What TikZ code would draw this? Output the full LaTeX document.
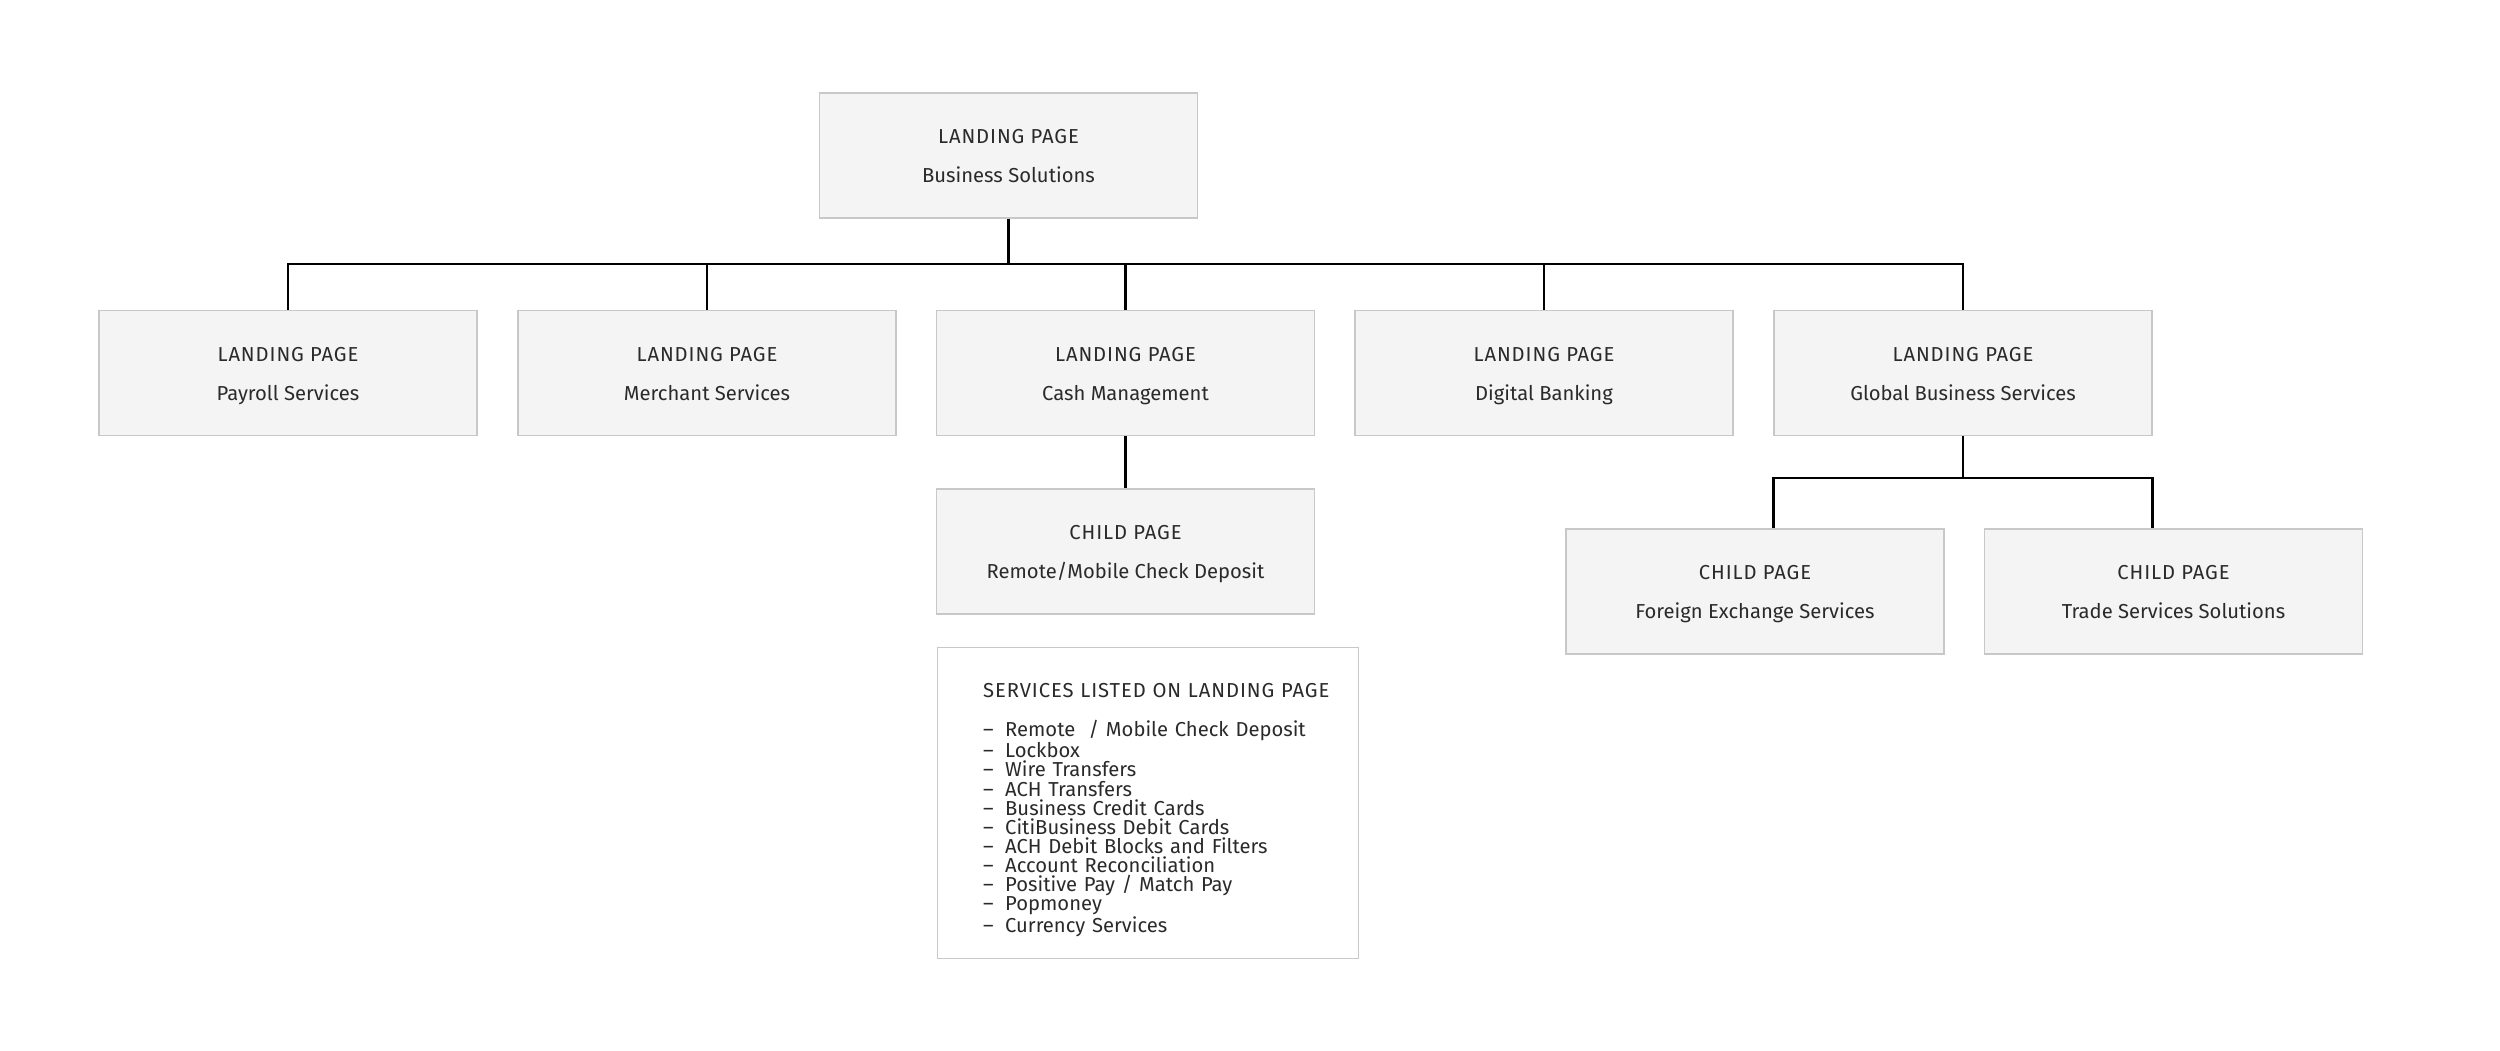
\documentclass[tikz,border=0pt]{standalone}
\usepackage{fontspec}
\setmainfont{Fira Sans}
\newfontfamily\capsfont[LetterSpace=4.5]{Fira Sans}
\setlength{\parindent}{0pt}
\newcommand{\pagetext}[2]{\strut{\capsfont #1}\\#2\strut}
\newcommand{\svcitem}[1]{\makebox[0.44cm][l]{--}#1}
\begin{document}
\begin{tikzpicture}[
    page/.style={draw=boxline, fill=boxfill, line width=0.8pt, minimum width=7.56cm, minimum height=2.5cm,
        align=center, text=ink, font=\fontsize{11.5}{22}\selectfont},
    svclist/.style={draw=boxline, fill=white, line width=0.8pt, text width=8.42cm, inner xsep=0pt,
        minimum height=6.22cm, align=left, text=ink, font=\fontsize{11.5}{10.85}\selectfont},
    link/.style={black, line width=1.6pt}]
    \definecolor{boxline}{RGB}{200,200,200}
    \definecolor{boxfill}{RGB}{244,244,244}
    \definecolor{ink}{RGB}{42,42,42}

    \useasboundingbox (0,0) rectangle (50,21);

    \node[page] (top) at (20.17,17.89) {\pagetext{LANDING PAGE}{Business Solutions}};
    \node[page] (pay) at (5.76,13.54) {\pagetext{LANDING PAGE}{Payroll Services}};
    \node[page] (mer) at (14.14,13.54) {\pagetext{LANDING PAGE}{Merchant Services}};
    \node[page] (cash) at (22.51,13.54) {\pagetext{LANDING PAGE}{Cash Management}};
    \node[page] (dig) at (30.88,13.54) {\pagetext{LANDING PAGE}{Digital Banking}};
    \node[page] (glob) at (39.26,13.54) {\pagetext{LANDING PAGE}{Global Business Services}};
    \node[page] (rdc) at (22.51,9.97) {\pagetext{CHILD PAGE}{Remote/Mobile Check Deposit}};
    \node[page] (fx) at (35.10,9.17) {\pagetext{CHILD PAGE}{Foreign Exchange Services}};
    \node[page] (trade) at (43.47,9.17) {\pagetext{CHILD PAGE}{Trade Services Solutions}};
    \node[svclist, anchor=north west] (svc) at (18.73,8.06) {\leftskip=0.92cm
        \rule{0pt}{16pt}{\capsfont SERVICES LISTED ON LANDING PAGE}\\[11.2pt]
        \svcitem{Remote\ \ / Mobile Check Deposit}\\
        \svcitem{Lockbox}\\
        \svcitem{Wire Transfers}\\
        \svcitem{ACH Transfers}\\
        \svcitem{Business Credit Cards}\\
        \svcitem{CitiBusiness Debit Cards}\\
        \svcitem{ACH Debit Blocks and Filters}\\
        \svcitem{Account Reconciliation}\\
        \svcitem{Positive Pay / Match Pay}\\
        \svcitem{Popmoney}\\
        \svcitem{Currency Services}\par};

    \coordinate (bus) at (0,15.72);
    \coordinate (sub) at (0,11.44);
    \draw[link] (top.south) -- (top.south |- bus);
    \draw[link] (pay.north) -- (pay.north |- bus) -- (glob.north |- bus) -- (glob.north);
    \foreach \p in {mer,cash,dig}
        \draw[link] (\p.north) -- (\p.north |- bus);
    \draw[link] (cash.south) -- (rdc.north);
    \draw[link] (glob.south) -- (glob.south |- sub);
    \draw[link] (fx.north -| glob.south west) -- (glob.south west |- sub) -- (glob.south east |- sub) -- (trade.north -| glob.south east);
\end{tikzpicture}
\end{document}
